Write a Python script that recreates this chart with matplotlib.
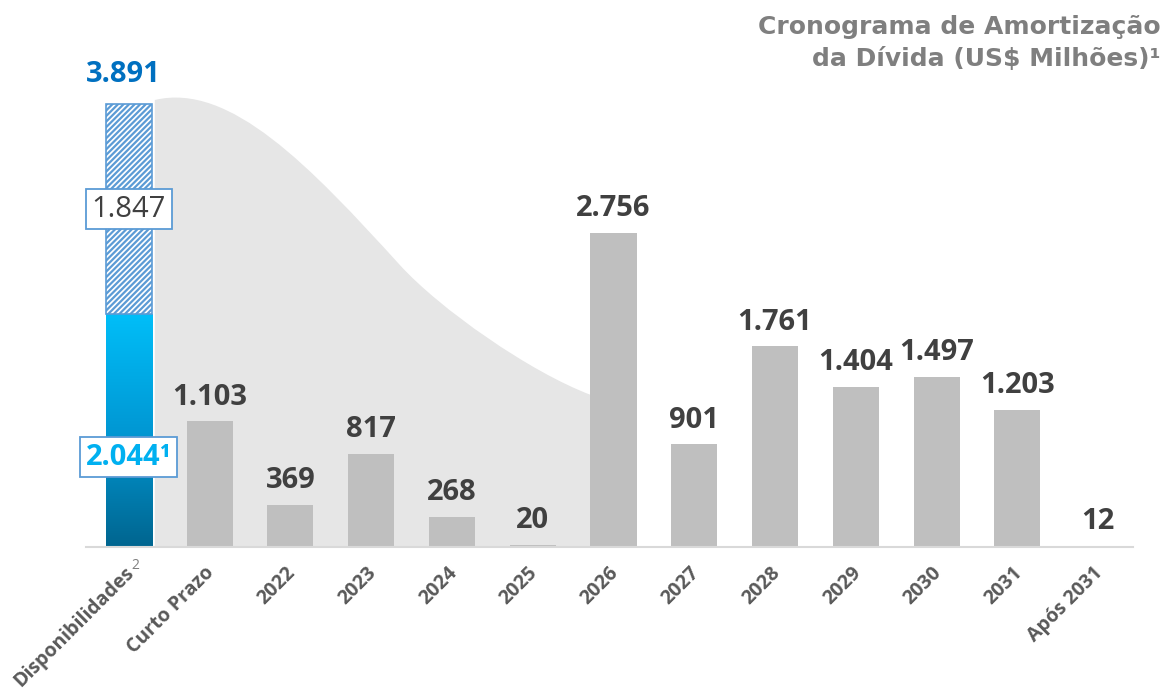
import numpy as np
import matplotlib
matplotlib.use("Agg")
import matplotlib.pyplot as plt
import matplotlib.transforms as mtransforms
from matplotlib.colors import LinearSegmentedColormap
from matplotlib.path import Path
from matplotlib.patches import PathPatch

# Data (US$ millions)
categories = ["Disponibilidades", "Curto Prazo", "2022", "2023", "2024", "2025", "2026",
              "2027", "2028", "2029", "2030", "2031", "Após 2031"]
cash_main = 2044
cash_extra = 1847
cash_total = 3891
debt = [1103, 369, 817, 268, 20, 2756, 901, 1761, 1404, 1497, 1203, 12]
debt_labels = ["1.103", "369", "817", "268", "20", "2.756", "901", "1.761",
               "1.404", "1.497", "1.203", "12"]

# decorative background curve: bezier control points (bar index, value)
curve_ctrl_x = [0.322, 1.251, 2.241, 3.356, 3.851, 4.966, 5.721]
curve_ctrl_y = [3925, 4083, 3345, 2476, 2090, 1536, 1335]

plt.rcParams["hatch.linewidth"] = 1.6

fig = plt.figure(figsize=(11.68, 6.92), dpi=100)
ax = fig.add_axes([0.0736, 0.2095, 0.8964, 0.7905])

bar_w = 0.57
x = np.arange(len(categories))
num_font = "Open Sans"

# grey background shape
verts = list(zip(curve_ctrl_x, curve_ctrl_y))
verts += [(curve_ctrl_x[-1], 0), (curve_ctrl_x[0], 0), (curve_ctrl_x[0], curve_ctrl_y[0])]
codes = [Path.MOVETO] + [Path.CURVE4] * 6 + [Path.LINETO, Path.LINETO, Path.CLOSEPOLY]
ax.add_patch(PathPatch(Path(verts, codes), facecolor="#E6E6E6", edgecolor="none", zorder=1))

# debt bars
ax.bar(x[1:], debt, width=bar_w, color="#BFBFBF", zorder=3)
for xi, v, lab in zip(x[1:], debt, debt_labels):
    ax.annotate(lab, (xi, v), xytext=(0, 12), textcoords="offset points",
                ha="center", va="baseline", fontsize=21, fontweight="bold",
                color="#404040", family=num_font, zorder=5)

# cash bar: gradient part
grad = np.linspace(0, 1, 256).reshape(-1, 1)
cmap = LinearSegmentedColormap.from_list("cash", ["#00658F", "#0098D4", "#00BEF8"])
ax.imshow(grad, extent=[-bar_w / 2, bar_w / 2, 0, cash_main], origin="lower",
          aspect="auto", cmap=cmap, zorder=3)
# cash bar: hatched part
ax.bar(0, cash_extra, bottom=cash_main, width=bar_w, color="white",
       edgecolor="#5B9BD5", hatch="//////", linewidth=1.2, zorder=3)

ax.annotate("3.891", (0, cash_total), xytext=(-4, 16), textcoords="offset points",
            ha="center", va="baseline", fontsize=21, fontweight="bold",
            color="#0070C0", family=num_font, zorder=5)
ax.text(0, cash_main + cash_extra / 2, "1.847", ha="center", va="center",
        fontsize=21, color="#404040", family=num_font, zorder=6,
        bbox=dict(boxstyle="square,pad=0.2", fc="white", ec="#5B9BD5", lw=1.3))
ax.text(0, 790, "2.044¹", ha="center", va="center",
        fontsize=21, fontweight="bold", color="#00B0F0", family=num_font, zorder=6,
        bbox=dict(boxstyle="square,pad=0.2", fc="white", ec="#5B9BD5", lw=1.3))

# axes styling
ax.set_xlim(-0.53, 12.43)
ax.set_ylim(0, 4803)
for s in ["top", "right", "left"]:
    ax.spines[s].set_visible(False)
ax.spines["bottom"].set_color("#D9D9D9")
ax.spines["bottom"].set_linewidth(1.5)
ax.spines["bottom"].set_zorder(4)
ax.set_yticks([])
ax.set_xticks(x)
ax.set_xticklabels(categories, rotation=45, ha="right", va="center",
                   rotation_mode="anchor", fontsize=14, fontweight="bold",
                   color="#595959", family="Open Sans")
ax.tick_params(axis="x", length=0, pad=0)
offset = mtransforms.ScaledTranslation(2 / 100, -23 / 100, fig.dpi_scale_trans)
for lbl in ax.get_xticklabels():
    lbl.set_transform(lbl.get_transform() + offset)

# superscript note on first label
ax.annotate("2", (0, 0), xytext=(5, -13), textcoords="offset points",
            ha="center", va="center", fontsize=10, color="#7F7F7F",
            family="Open Sans", annotation_clip=False)

fig.text(0.994, 0.978, "Cronograma de Amortização\nda Dívida (US$ Milhões)¹",
         ha="right", va="top", fontsize=18, fontweight="bold", color="#7F7F7F",
         linespacing=1.4, parse_math=False)

fig.savefig("out.png", dpi=100)
